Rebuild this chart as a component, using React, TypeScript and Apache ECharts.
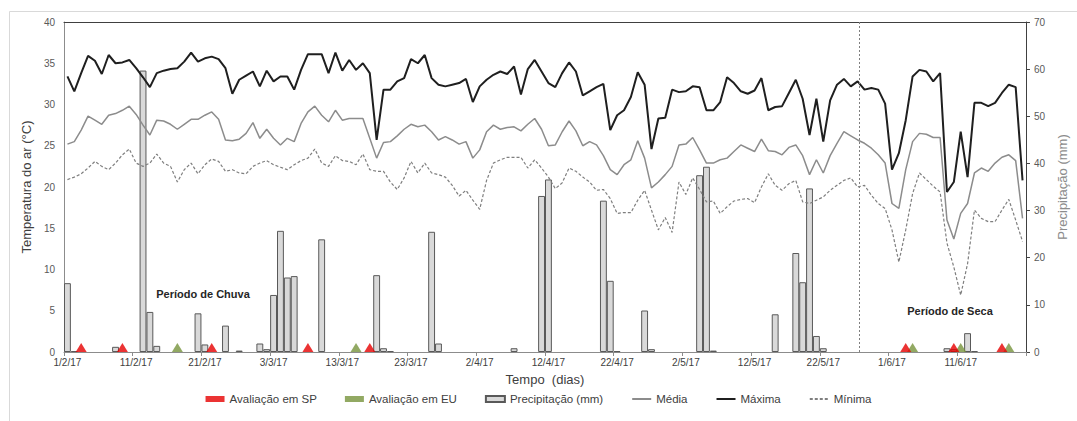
import { useEffect, useRef } from "react";
import * as echarts from "echarts";

// Daily categories: 1/2/17 .. 20/6/17
const DAY_COUNT = 140;
const categories: string[] = Array.from({ length: DAY_COUNT }, (_, i) => {
  const d = new Date(2017, 1, 1 + i);
  return `${d.getDate()}/${d.getMonth() + 1}/17`;
});

// Máxima (°C)
const maxima: number[] = [
  33.4, 31.6, 33.8, 35.9, 35.3, 33.7, 36.0, 35.0, 35.1, 35.4,
  34.4, 33.3, 32.1, 33.8, 34.1, 34.3, 34.4, 35.2, 36.3, 35.2,
  35.6, 35.8, 35.5, 34.4, 31.3, 33.0, 33.5, 34.0, 32.2, 34.1,
  32.8, 33.4, 33.4, 31.8, 34.2, 36.1, 36.1, 36.1, 33.8, 36.3,
  34.1, 35.4, 34.2, 35.0, 33.8, 25.7, 31.8, 31.8, 32.8, 33.2,
  35.5, 35.0, 36.0, 33.2, 32.4, 32.2, 32.4, 32.6, 33.1, 30.3,
  32.2, 33.0, 33.6, 34.0, 33.7, 34.6, 31.2, 34.3, 35.4, 34.0,
  32.6, 32.1, 33.8, 35.1, 34.0, 31.1, 31.6, 32.1, 32.5, 26.9,
  28.7, 29.3, 30.9, 33.9, 32.4, 24.6, 28.3, 28.4, 31.8, 31.5,
  31.6, 32.2, 32.1, 29.3, 29.3, 30.3, 33.3, 32.6, 31.6, 31.3,
  31.7, 33.2, 29.3, 29.7, 29.8, 31.4, 33.0, 30.7, 26.3, 30.7,
  25.5, 30.5, 32.4, 33.1, 32.2, 32.8, 31.8, 32.0, 31.8, 30.1,
  22.1, 24.1, 28.1, 33.4, 34.2, 34.0, 32.8, 33.8, 19.4, 20.6,
  26.7, 21.2, 30.2, 30.2, 29.8, 30.2, 31.4, 32.4, 32.1, 20.8,
];

// Média (°C)
const media: number[] = [
  25.2, 25.5, 26.9, 28.6, 28.1, 27.6, 28.7, 28.9, 29.3, 29.8,
  28.8, 27.5, 26.3, 28.1, 28.0, 27.6, 27.0, 27.6, 28.2, 28.2,
  28.7, 29.1, 28.2, 25.7, 25.6, 25.8, 26.5, 27.8, 25.9, 27.0,
  25.9, 25.1, 25.9, 25.5, 27.7, 29.1, 29.8, 28.7, 27.9, 29.3,
  28.1, 28.3, 28.3, 28.3, 25.9, 23.5, 25.4, 25.5, 26.2, 27.0,
  27.6, 27.3, 27.5, 26.7, 25.7, 26.1, 25.7, 25.2, 25.5, 23.5,
  24.5, 26.7, 27.5, 27.0, 27.2, 27.3, 26.8, 27.6, 28.3, 27.0,
  25.0, 25.1, 26.7, 28.0, 26.8, 25.0, 25.5, 25.1, 23.8, 22.1,
  21.5, 22.7, 23.3, 25.6, 23.5, 19.9, 20.6, 21.5, 22.5, 25.1,
  25.2, 26.0, 24.5, 22.9, 22.9, 23.3, 23.5, 24.3, 25.1, 24.7,
  24.3, 25.8, 24.4, 24.3, 23.9, 24.8, 25.1, 23.8, 21.5, 23.3,
  21.7, 23.8, 25.3, 26.7, 26.2, 25.7, 25.3, 24.7, 23.9, 22.9,
  18.0, 17.4, 22.1, 25.5, 26.5, 26.4, 26.0, 26.0, 16.0, 13.7,
  16.8, 18.0, 21.7, 22.3, 21.9, 22.9, 23.6, 23.9, 23.2, 16.2,
];

// Mínima (°C)
const minima: number[] = [
  20.9, 21.2, 21.6, 22.3, 23.1, 22.5, 22.1, 22.9, 23.9, 24.6,
  22.9, 22.5, 22.9, 24.0, 22.9, 22.5, 20.6, 22.1, 22.9, 21.6,
  22.7, 23.4, 23.1, 21.9, 22.1, 21.7, 21.6, 22.5, 22.9, 23.2,
  22.7, 22.4, 22.1, 22.7, 23.2, 23.5, 24.6, 22.9, 22.5, 23.8,
  23.2, 23.1, 22.7, 24.0, 22.1, 21.9, 21.9, 20.6, 19.7, 21.1,
  23.1, 21.7, 22.9, 21.7, 21.5, 21.2, 20.2, 18.9, 19.6, 18.4,
  17.3, 20.8, 22.9, 23.3, 23.6, 23.6, 23.6, 22.3, 23.3, 22.3,
  21.2, 19.8, 20.5, 22.3, 21.9, 21.2, 20.6, 19.6, 19.7, 18.6,
  16.8, 16.9, 16.9, 18.4, 19.6, 17.2, 14.8, 16.3, 14.5, 20.6,
  19.1, 21.1, 19.7, 18.2, 18.3, 16.8, 17.6, 18.3, 18.5, 18.6,
  18.1, 20.0, 21.6, 20.2, 19.6, 20.4, 20.8, 18.2, 18.0, 18.4,
  18.8, 19.6, 20.2, 20.8, 21.1, 20.0, 20.2, 19.0, 18.0, 17.4,
  14.8, 10.9, 14.8, 19.2, 21.7, 20.9, 20.1, 19.4, 13.2, 10.3,
  6.9, 10.7, 17.2, 16.2, 15.8, 15.8, 17.2, 18.5, 16.0, 13.4,
];

// Precipitação (mm)
const precipitacao: number[] = [
  14.6, 0.2, 0, 0, 0, 0, 0, 1.1, 0, 0,
  0, 59.7, 8.5, 1.3, 0, 0, 0, 0, 0, 8.2,
  1.6, 0, 0, 5.6, 0, 0.3, 0, 0, 1.8, 0.6,
  12.1, 25.7, 15.8, 16.1, 0, 0, 0, 23.9, 0, 0,
  0, 0, 0, 0, 0, 16.3, 0.8, 0.2, 0, 0,
  0, 0, 0, 25.5, 1.8, 0, 0, 0, 0, 0,
  0, 0, 0, 0, 0, 0.8, 0, 0, 0, 33.1,
  36.6, 0, 0, 0, 0, 0, 0, 0, 32.1, 15.1,
  0.2, 0, 0, 0, 8.8, 0.6, 0, 0, 0, 0,
  0, 0, 37.5, 39.3, 0.3, 0, 0, 0, 0, 0,
  0, 0, 0, 8.0, 0, 0, 21.0, 14.8, 34.7, 3.4,
  0.8, 0, 0, 0, 0, 0, 0, 0, 0, 0,
  0, 0, 0, 0, 0, 0, 0, 0, 0.8, 0.6,
  0, 4.0, 0.2, 0, 0, 0, 0, 0, 0, 0,
];

// Evaluation days (index of the day from 1/2/17)
const avaliacaoSP: number[] = [2, 8, 21, 35, 44, 122, 129, 136];
const avaliacaoEU: number[] = [16, 42, 123, 130, 137];

// Boundary between rainy and dry periods (days from 1/2/17)
const limitePeriodos = 115.8;

const FONT = "'Liberation Sans', Arial, sans-serif";
const HIDDEN_SYMBOL = { color: "rgba(0,0,0,0)", borderWidth: 0, opacity: 0 };

export default function App() {
  const ref = useRef<HTMLDivElement>(null);

  useEffect(() => {
    if (!ref.current) return;
    const chart = echarts.init(ref.current, undefined, { renderer: "svg" });

    const option: any = {
      animation: false,
      backgroundColor: "#ffffff",
      textStyle: { fontFamily: FONT },
      grid: { left: 64, right: 50, top: 22, bottom: 69, containLabel: false },
      legend: {
        top: 388,
        left: "center",
        itemWidth: 19,
        itemHeight: 6,
        itemGap: 28,
        textStyle: { fontSize: 11.5, color: "#404040", fontFamily: FONT },
        data: [
          { name: "Avaliação em SP", icon: "rect" },
          { name: "Avaliação em EU", icon: "rect" },
          { name: "Precipitação (mm)", icon: "rect" },
          { name: "Média", itemStyle: HIDDEN_SYMBOL },
          { name: "Máxima", itemStyle: HIDDEN_SYMBOL },
          { name: "Mínima", itemStyle: HIDDEN_SYMBOL },
        ],
      },
      xAxis: [
        {
          type: "category",
          data: categories,
          boundaryGap: true,
          name: "Tempo  (dias)",
          nameLocation: "middle",
          nameGap: 21,
          nameTextStyle: { fontSize: 13, color: "#404040", fontFamily: FONT },
          axisLine: { show: true, lineStyle: { color: "#8c8c8c", width: 1 } },
          axisTick: { show: true, interval: 9, length: 4, alignWithLabel: false, lineStyle: { color: "#8c8c8c" } },
          axisLabel: { interval: 9, fontSize: 10, color: "#404040", margin: 5, fontFamily: FONT },
          splitLine: { show: false },
        },
        {
          type: "value",
          min: 0,
          max: DAY_COUNT,
          position: "top",
          show: true,
          axisLine: { show: true, onZero: false, lineStyle: { color: "#404040", width: 1 } },
          axisTick: { show: false },
          axisLabel: { show: false },
          splitLine: { show: false },
        },
      ],
      yAxis: [
        {
          type: "value",
          min: 0,
          max: 40,
          interval: 5,
          position: "left",
          name: "Temperatura do ar (°C)",
          nameLocation: "middle",
          nameGap: 26,
          nameTextStyle: { fontSize: 13, color: "#404040", fontFamily: FONT },
          axisLine: { show: true, lineStyle: { color: "#8c8c8c", width: 1 } },
          axisTick: { show: false },
          axisLabel: { fontSize: 10, color: "#595959", margin: 9, fontFamily: FONT },
          splitLine: { show: false },
        },
        {
          type: "value",
          min: 0,
          max: 70,
          interval: 10,
          position: "right",
          name: "Precipitação (mm)",
          nameLocation: "middle",
          nameGap: 28,
          nameTextStyle: { fontSize: 13, color: "#8c8c8c", fontFamily: FONT },
          axisLine: { show: true, lineStyle: { color: "#404040", width: 1 } },
          axisTick: { show: true, length: 4, inside: false, lineStyle: { color: "#404040" } },
          axisLabel: { fontSize: 10, color: "#595959", margin: 8, fontFamily: FONT },
          splitLine: { show: false },
        },
      ],
      series: [
        {
          name: "Precipitação (mm)",
          type: "bar",
          xAxisIndex: 0,
          yAxisIndex: 1,
          barCategoryGap: "0%",
          data: precipitacao.map((v) => (v === 0 ? null : v)),
          itemStyle: { color: "#d9d9d9", borderColor: "#595959", borderWidth: 1 },
          z: 1,
        },
        {
          name: "Média",
          type: "line",
          xAxisIndex: 0,
          yAxisIndex: 0,
          data: media,
          symbol: "none",
          lineStyle: { color: "#8c8c8c", width: 1.5 },
          itemStyle: { color: "#8c8c8c" },
          z: 3,
        },
        {
          name: "Máxima",
          type: "line",
          xAxisIndex: 0,
          yAxisIndex: 0,
          data: maxima,
          symbol: "none",
          lineStyle: { color: "#1f1f1f", width: 2 },
          itemStyle: { color: "#1f1f1f" },
          z: 3,
        },
        {
          name: "Mínima",
          type: "line",
          xAxisIndex: 0,
          yAxisIndex: 0,
          data: minima,
          symbol: "none",
          lineStyle: { color: "#7f7f7f", width: 1.2, type: [3, 2] },
          itemStyle: { color: "#7f7f7f" },
          z: 3,
        },
        {
          name: "Avaliação em EU",
          type: "scatter",
          xAxisIndex: 0,
          yAxisIndex: 0,
          data: avaliacaoEU.map((d) => [d, 0]),
          symbol: "triangle",
          symbolSize: [11, 9],
          symbolOffset: [0, -4.5],
          itemStyle: { color: "#77933c" },
          z: 4,
        },
        {
          name: "Avaliação em SP",
          type: "scatter",
          xAxisIndex: 0,
          yAxisIndex: 0,
          data: avaliacaoSP.map((d) => [d, 0]),
          symbol: "triangle",
          symbolSize: [11, 9],
          symbolOffset: [0, -4.5],
          itemStyle: { color: "#e60000" },
          z: 5,
        },
        {
          name: "limite",
          type: "line",
          xAxisIndex: 1,
          yAxisIndex: 0,
          data: [],
          silent: true,
          markLine: {
            silent: true,
            symbol: ["none", "none"],
            label: { show: false },
            lineStyle: { color: "#7f7f7f", width: 1, type: [2, 2] },
            data: [{ xAxis: limitePeriodos }],
          },
          z: 2,
        },
      ],
      graphic: [
        {
          type: "rect",
          shape: { x: 9.5, y: 11.5, width: 1080, height: 420 },
          style: { fill: "none", stroke: "#d9d9d9", lineWidth: 1 },
          silent: true,
          z: -10,
        },
        {
          type: "text",
          x: 203,
          y: 294,
          style: {
            text: "Período de Chuva",
            fontSize: 11,
            fontWeight: "bold",
            fontFamily: FONT,
            fill: "#262626",
            textAlign: "center",
            textVerticalAlign: "middle",
          },
        },
        {
          type: "text",
          x: 950,
          y: 311,
          style: {
            text: "Período de Seca",
            fontSize: 11,
            fontWeight: "bold",
            fontFamily: FONT,
            fill: "#262626",
            textAlign: "center",
            textVerticalAlign: "middle",
          },
        },
      ],
    };

    chart.setOption(option);
    return () => {
      chart.dispose();
    };
  }, []);

  return (
    <div
      ref={ref}
      style={{ position: "fixed", left: 0, top: 0, width: 1077, height: 421, background: "#fff" }}
    />
  );
}
